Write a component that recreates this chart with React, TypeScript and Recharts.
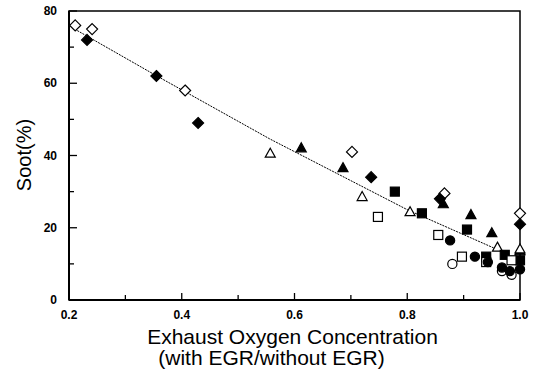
import React from 'react';
import { ScatterChart, Scatter, XAxis, YAxis, ReferenceArea } from 'recharts';

// tick values
const xTicks = [0.2, 0.3, 0.4, 0.5, 0.6, 0.7, 0.8, 0.9, 1.0];
const xMajor = [0.2, 0.4, 0.6, 0.8, 1.0];
const yTicks = [0, 10, 20, 30, 40, 50, 60, 70, 80];
const yMajor = [0, 20, 40, 60, 80];

// series: [oxygen ratio, soot %]
const openDiamond = [[0.211, 76], [0.241, 75], [0.406, 58], [0.702, 41], [0.866, 29.5], [1.0, 24]];
const filledDiamond = [[0.232, 72], [0.355, 62], [0.429, 49], [0.736, 34], [0.858, 28], [1.0, 21]];
const filledTriangle = [[0.612, 42], [0.686, 36.5], [0.864, 26.5], [0.913, 23.5], [0.95, 18.5], [1.0, 13.5]];
const openTriangle = [[0.557, 40.5], [0.72, 28.5], [0.805, 24.3], [0.96, 14.5], [1.0, 14]];
const filledSquare = [[0.778, 30], [0.826, 24], [0.906, 19.5], [0.94, 12], [0.973, 12.5], [1.0, 11]];
const openSquare = [[0.748, 23], [0.855, 18], [0.897, 12], [0.94, 10.5], [0.985, 11]];
const openCircle = [[0.88, 10], [0.968, 8], [0.985, 7]];
const filledCircle = [[0.876, 16.5], [0.92, 12], [0.943, 10.5], [0.968, 9], [0.982, 8], [1.0, 8.5]];
const trendLine = [[0.21, 75], [0.356, 62], [0.556, 44.6], [0.8, 25], [0.955, 14.3]];

const toRows = (pts: number[][]) => pts.map(([x, y]) => ({ x, y }));

const FONT = '"Liberation Sans", Arial, sans-serif';

const makeShape = (kind: string, filled: boolean) => (props: any) => {
  const { cx, cy } = props;
  const fill = filled ? '#000' : '#fff';
  const common = { fill, stroke: '#000', strokeWidth: 1.2 };
  if (kind === 'diamond') {
    const r = 5.5;
    return <path d={`M${cx},${cy - r}L${cx + r},${cy}L${cx},${cy + r}L${cx - r},${cy}Z`} {...common} />;
  }
  if (kind === 'square') {
    return <rect x={cx - 4.5} y={cy - 4.5} width={9} height={9} {...common} />;
  }
  if (kind === 'triangle') {
    return <path d={`M${cx},${cy - 5.5}L${cx + 5},${cy + 3.5}L${cx - 5},${cy + 3.5}Z`} {...common} />;
  }
  return <circle cx={cx} cy={cy} r={4.6} {...common} />;
};

const XTick = (props: any) => {
  const { x, y, payload } = props;
  const major = xMajor.some((v) => Math.abs(v - payload.value) < 1e-6);
  return (
    <g>
      <line x1={x} y1={y} x2={x} y2={y - (major ? 7 : 5)} stroke="#000" strokeWidth={1.3} />
      {major && (
        <text x={x} y={y + 19} textAnchor="middle" fontFamily={FONT} fontSize={12} fontWeight="bold" fill="#000">
          {payload.value.toFixed(1)}
        </text>
      )}
    </g>
  );
};

const YTick = (props: any) => {
  const { x, y, payload } = props;
  const major = yMajor.includes(payload.value);
  return (
    <g>
      <line x1={x} y1={y} x2={x + (major ? 8 : 5)} y2={y} stroke="#000" strokeWidth={1.3} />
      {major && (
        <text x={x - 12} y={y + 4} textAnchor="end" fontFamily={FONT} fontSize={12} fontWeight="bold" fill="#000">
          {payload.value}
        </text>
      )}
    </g>
  );
};

const series = [
  { data: openDiamond, kind: 'diamond', filled: false },
  { data: filledDiamond, kind: 'diamond', filled: true },
  { data: filledTriangle, kind: 'triangle', filled: true },
  { data: openTriangle, kind: 'triangle', filled: false },
  { data: filledSquare, kind: 'square', filled: true },
  { data: openSquare, kind: 'square', filled: false },
  { data: openCircle, kind: 'circle', filled: false },
  { data: filledCircle, kind: 'circle', filled: true },
];

export default function App() {
  return (
    <div style={{ position: 'absolute', left: 0, top: 0, width: 535, height: 372, background: '#fff' }}>
      <ScatterChart width={535} height={372} margin={{ top: 11, right: 15, left: 0, bottom: 0 }}>
        <XAxis
          type="number"
          dataKey="x"
          domain={[0.2, 1.0]}
          ticks={xTicks}
          interval={0}
          height={72}
          tickSize={0}
          tickMargin={0}
          tickLine={false}
          tick={<XTick />}
          axisLine={{ stroke: '#000', strokeWidth: 2 }}
        />
        <YAxis
          type="number"
          dataKey="y"
          domain={[0, 80]}
          ticks={yTicks}
          interval={0}
          width={69}
          tickSize={0}
          tickMargin={0}
          tickLine={false}
          tick={<YTick />}
          axisLine={{ stroke: '#000', strokeWidth: 2 }}
        />
        <ReferenceArea x1={0.2} x2={1.0} y1={0} y2={80} fill="none" stroke="#000" strokeWidth={1.5} />
        <Scatter
          data={toRows(trendLine)}
          line={{ stroke: '#000', strokeWidth: 1, strokeDasharray: '2 1' }}
          lineType="joint"
          shape={() => <g />}
          isAnimationActive={false}
        />
        {series.map((s, i) => (
          <Scatter key={i} data={toRows(s.data)} shape={makeShape(s.kind, s.filled)} isAnimationActive={false} />
        ))}
      </ScatterChart>
      <div
        style={{
          position: 'absolute', left: 24, top: 155, transform: 'translate(-50%, -50%) rotate(-90deg)',
          fontFamily: FONT, fontSize: 20, whiteSpace: 'nowrap', color: '#000',
        }}
      >
        Soot(%)
      </div>
      <div
        style={{
          position: 'absolute', left: 0, width: 585, top: 325, textAlign: 'center',
          fontFamily: FONT, fontSize: 21, whiteSpace: 'nowrap', color: '#000', lineHeight: '24px',
        }}
      >
        Exhaust Oxygen Concentration
      </div>
      <div
        style={{
          position: 'absolute', left: 0, width: 543, top: 346, textAlign: 'center',
          fontFamily: FONT, fontSize: 21, whiteSpace: 'nowrap', color: '#000', lineHeight: '24px',
        }}
      >
        (with EGR/without EGR)
      </div>
    </div>
  );
}
